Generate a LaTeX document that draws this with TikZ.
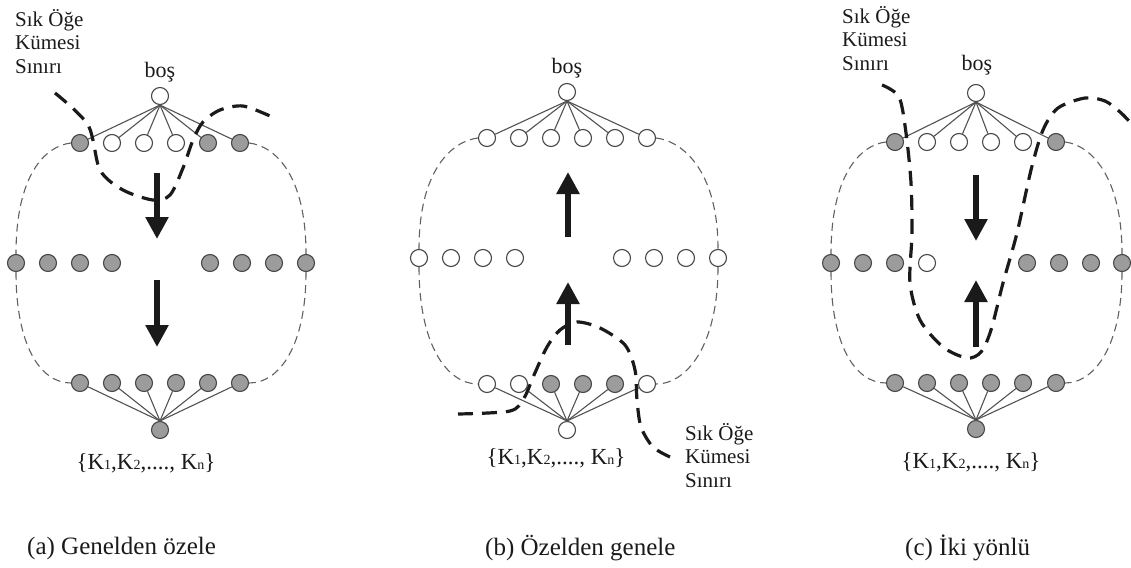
\documentclass[tikz,border=0pt]{standalone}
\usepackage{fontspec}
\setmainfont{Liberation Serif}
\usetikzlibrary{arrows.meta}
\definecolor{nodegray}{HTML}{9C9C9C}
\definecolor{inkc}{HTML}{1A1A1A}
\begin{document}
\begin{tikzpicture}[x=1pt,y=-1pt,
  nd/.style={circle, draw=black!72, line width=1.1pt, minimum size=17pt, inner sep=0pt},
  edge/.style={draw=black!68, line width=1.1pt},
  outline/.style={draw=black!62, line width=1.1pt, dash pattern=on 8pt off 5pt},
  fsb/.style={draw=inkc, line width=3.2pt, dash pattern=on 15pt off 9pt},
  bigarrow/.style={draw=inkc, line width=5.5pt, -{Triangle[length=22pt,width=22pt]}},
  lbl/.style={font=\fontsize{21}{23.5}\selectfont, align=left, inner sep=0pt, text=inkc},
  bos/.style={font=\fontsize{22}{26}\selectfont, inner sep=0pt, text=inkc},
  kset/.style={font=\fontsize{23}{28}\selectfont, inner sep=0pt, text=inkc},
  captxt/.style={font=\fontsize{25}{30}\selectfont, inner sep=0pt, text=inkc, anchor=west}
]
\useasboundingbox (0,0) rectangle (1131,567);
\newcommand{\sbs}[1]{{\fontsize{14}{14}\selectfont #1}}

% ===================== Panel (a) =====================
\node[nd, fill=white] (aT) at (160,96) {};
\foreach \i/\x/\f in {1/80/nodegray,2/112/white,3/144/white,4/176/white,5/208/nodegray,6/240/nodegray}
  \node[nd, fill=\f] (at\i) at (\x,143) {};
\foreach \i/\x in {1/16,2/48,3/80,4/112,5/210,6/242,7/274,8/306}
  \node[nd, fill=nodegray] (am\i) at (\x,263) {};
\foreach \i/\x in {1/80,2/112,3/144,4/176,5/208,6/240}
  \node[nd, fill=nodegray] (ab\i) at (\x,383) {};
\node[nd, fill=nodegray] (aB) at (160,430) {};
\foreach \i in {1,...,6} {
  \draw[edge] (aT.south) -- (at\i);
  \draw[edge] (aB.north) -- (ab\i);
}
\draw[outline] (at1.west) .. controls (45,146) and (16,175) .. (am1.north);
\draw[outline] (am1.south) .. controls (16,345) and (40,383) .. (ab1.west);
\draw[outline] (at6.east) .. controls (275,146) and (306,175) .. (am8.north);
\draw[outline] (am8.south) .. controls (306,345) and (280,383) .. (ab6.east);
\coordinate (a1s) at (157,173); \coordinate (a1e) at (157,239);
\coordinate (a2s) at (157,280); \coordinate (a2e) at (157,347);
\draw[bigarrow] (a1s) -- (a1e);
\draw[bigarrow] (a2s) -- (a2e);
\draw[fsb] plot[smooth] coordinates {(55,93) (88,125) (100,170) (123,190) (153,200) (170,195) (183,168) (193,140) (203,122) (220,110) (243,106) (270,116)};
\node[lbl, anchor=north west] (alab) at (15,9) {Sık Öğe\\Kümesi\\Sınırı};
\node[bos] (abos) at (160,72) {boş};
\node[kset] (akset) at (146,463) {\{K\sbs{1},K\sbs{2},...., K\sbs{n}\}};
\node[captxt] (acap) at (27,548) {(a) Genelden özele};

% ===================== Panel (b) =====================
\node[nd, fill=white] (bT) at (567,92) {};
\foreach \i/\x in {1/487,2/519,3/551,4/583,5/615,6/647}
  \node[nd, fill=white] (bt\i) at (\x,138) {};
\foreach \i/\x in {1/419,2/451,3/483,4/515,5/622,6/654,7/686,8/718}
  \node[nd, fill=white] (bm\i) at (\x,258) {};
\foreach \i/\x/\f in {1/487/white,2/519/white,3/551/nodegray,4/583/nodegray,5/615/nodegray,6/647/white}
  \node[nd, fill=\f] (bb\i) at (\x,384) {};
\node[nd, fill=white] (bB) at (567,430) {};
\foreach \i in {1,...,6} {
  \draw[edge] (bT.south) -- (bt\i);
  \draw[edge] (bB.north) -- (bb\i);
}
\draw[outline] (bt1.west) .. controls (452,141) and (419,170) .. (bm1.north);
\draw[outline] (bm1.south) .. controls (419,345) and (447,384) .. (bb1.west);
\draw[outline] (bt6.east) .. controls (682,141) and (718,170) .. (bm8.north);
\draw[outline] (bm8.south) .. controls (718,345) and (687,384) .. (bb6.east);
\coordinate (b1s) at (568,237); \coordinate (b1e) at (568,172);
\coordinate (b2s) at (568,345); \coordinate (b2e) at (568,282);
\draw[bigarrow] (b1s) -- (b1e);
\draw[bigarrow] (b2s) -- (b2e);
\draw[fsb] plot[smooth] coordinates {(458,414) (510,411) (524,398) (534,375) (547,347) (560,330) (577,322) (600,328) (625,345) (635,370) (637,400) (641,427) (653,447) (670,457)};
\node[lbl, anchor=north west] (blab) at (685,423) {Sık Öğe\\Kümesi\\Sınırı};
\node[bos] (bbos) at (567,68) {boş};
\node[kset] (bkset) at (556,458) {\{K\sbs{1},K\sbs{2},...., K\sbs{n}\}};
\node[captxt] (bcap) at (485,548) {(b) Özelden genele};

% ===================== Panel (c) =====================
\node[nd, fill=white] (cT) at (976,93) {};
\foreach \i/\x/\f in {1/895/nodegray,2/927/white,3/959/white,4/991/white,5/1023/white,6/1056/nodegray}
  \node[nd, fill=\f] (ct\i) at (\x,142) {};
\foreach \i/\x/\f in {1/831/nodegray,2/863/nodegray,3/895/nodegray,4/927/white,5/1027/nodegray,6/1059/nodegray,7/1091/nodegray,8/1122/nodegray}
  \node[nd, fill=\f] (cm\i) at (\x,263) {};
\foreach \i/\x in {1/895,2/927,3/959,4/991,5/1023,6/1056}
  \node[nd, fill=nodegray] (cb\i) at (\x,383) {};
\node[nd, fill=nodegray] (cB) at (976,429) {};
\foreach \i in {1,...,6} {
  \draw[edge] (cT.south) -- (ct\i);
  \draw[edge] (cB.north) -- (cb\i);
}
\draw[outline] (ct1.west) .. controls (860,145) and (831,175) .. (cm1.north);
\draw[outline] (cm1.south) .. controls (831,345) and (855,383) .. (cb1.west);
\draw[outline] (ct6.east) .. controls (1090,145) and (1122,175) .. (cm8.north);
\draw[outline] (cm8.south) .. controls (1122,345) and (1095,383) .. (cb6.east);
\coordinate (c1s) at (976,175); \coordinate (c1e) at (976,241);
\coordinate (c2s) at (976,347); \coordinate (c2e) at (976,280);
\draw[bigarrow] (c1s) -- (c1e);
\draw[bigarrow] (c2s) -- (c2e);
\draw[fsb] plot[smooth] coordinates {(882,85) (899,97) (906,133) (911,183) (912,233) (910,283) (920,320) (943,347) (967,358) (981,352) (991,330) (1003,283) (1017,233) (1031,170) (1043,130) (1058,108) (1085,98) (1105,101) (1120,112) (1130,122)};
\node[lbl, anchor=north west] (clab) at (842,6) {Sık Öğe\\Kümesi\\Sınırı};
\node[bos] (cbos) at (977,65) {boş};
\node[kset] (ckset) at (971,462) {\{K\sbs{1},K\sbs{2},...., K\sbs{n}\}};
\node[captxt] (ccap) at (905,548) {(c) İki yönlü};
\end{tikzpicture}
\end{document}
